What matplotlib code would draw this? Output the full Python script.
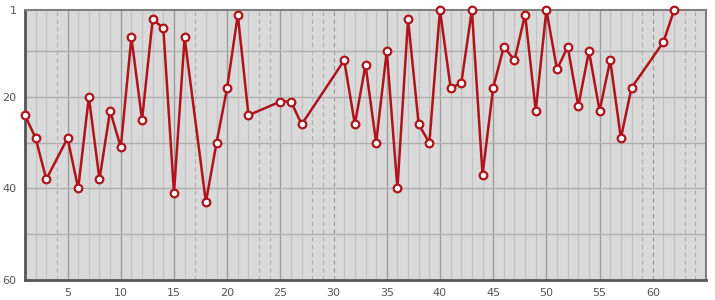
import matplotlib
matplotlib.use('Agg')
import matplotlib.pyplot as plt

# rank per race / week (lower is better), missing x values have no entry
x_vals = [1, 2, 3, 5, 6, 7, 8, 9, 10, 11, 12, 13, 14, 15, 16, 18, 19, 20, 21, 22,
          25, 26, 27, 31, 32, 33, 34, 35, 36, 37, 38, 39, 40, 41, 42, 43, 44, 45,
          46, 47, 48, 49, 50, 51, 52, 53, 54, 55, 56, 57, 58, 61, 62]
ranks = [24, 29, 38, 29, 40, 20, 38, 23, 31, 7, 25, 3, 5, 41, 7, 43, 30, 18, 2, 24,
         21, 21, 26, 12, 26, 13, 30, 10, 40, 3, 26, 30, 1, 18, 17, 1, 37, 18,
         9, 12, 2, 23, 1, 14, 9, 22, 10, 23, 12, 29, 18, 8, 1]

x_ticks = [5, 10, 15, 20, 25, 30, 35, 40, 45, 50, 55, 60]
y_ticks = [1, 20, 40, 60]
y_grid = [10, 20, 30, 40, 50]
x_max = 65

fig = plt.figure(figsize=(7.15, 3.0), dpi=100)
ax = fig.add_axes([25 / 715, 20 / 300, 681 / 715, 270 / 300])
ax.set_facecolor('#d9d9d9')

missing = [i for i in range(1, x_max) if i not in x_vals]
for i in range(2, x_max):
    if i in missing:
        ax.axvline(i, color='#999999' if i % 5 == 0 else '#b0b0b0',
                   lw=0.8, ls=(0, (4, 3)), zorder=1)
    elif i % 5 == 0:
        ax.axvline(i, color='#9c9c9c', lw=1.0, zorder=1)
    else:
        ax.axvline(i, color='#c2c2c2', lw=0.9, zorder=1)
for v in y_grid:
    ax.axhline(v, color='#b0b0b0', lw=1.0, zorder=1)

ax.plot(x_vals, ranks, color='#b0141a', lw=1.8, zorder=3,
        marker='o', ms=5.5, mfc='white', mec='#b0141a', mew=1.6, clip_on=False)

ax.set_xlim(1, x_max)
ax.set_ylim(60, 1)
ax.set_xticks(x_ticks)
ax.set_yticks(y_ticks)
ax.tick_params(length=0, labelsize=8, colors='#555555', pad=6)

for side in ['top', 'right']:
    ax.spines[side].set_color('#808080')
    ax.spines[side].set_linewidth(1.5)
for side in ['left', 'bottom']:
    ax.spines[side].set_color('#555555')
    ax.spines[side].set_linewidth(2)

plt.savefig('out.png', dpi=100)
plt.close()
